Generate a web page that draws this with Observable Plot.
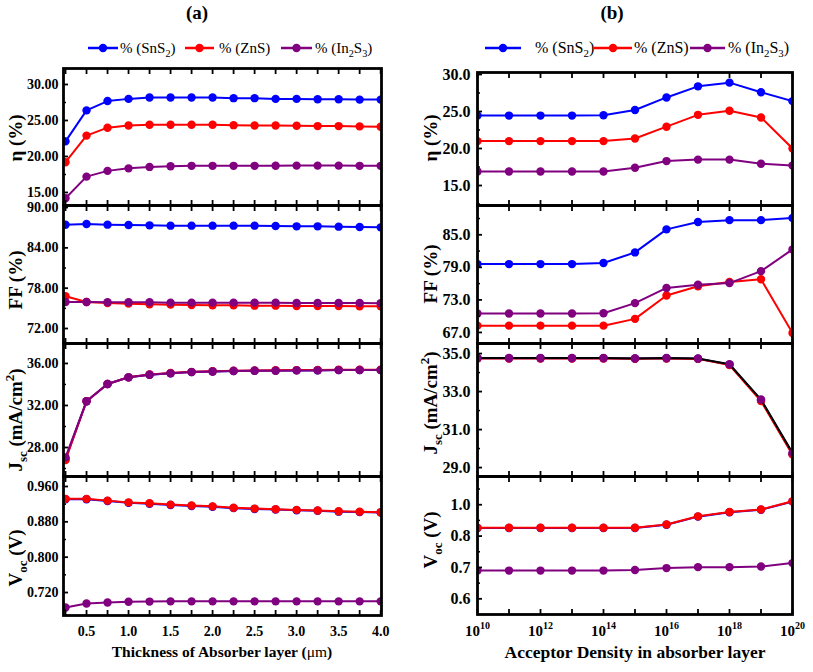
<!DOCTYPE html>
<html><head><meta charset="utf-8">
<script src="https://cdn.jsdelivr.net/npm/d3@7"></script>
<script src="https://cdn.jsdelivr.net/npm/@observablehq/plot@0.6"></script>
<style>
body{margin:0;background:#fff;}
#wrap{position:relative;width:813px;height:672px;overflow:hidden;background:#fff;}
#wrap svg{overflow:visible;position:absolute;}
</style></head><body><div id="wrap"></div>
<script>
// ---------- data ----------
const seriesNames = ["% (SnS2)", "% (ZnS)", "% (In2S3)"];
const seriesColors = ["#0000ff", "#ff0000", "#800080"];

// (a) thickness of absorber layer (µm)
const thickness = [0.25,0.5,0.75,1.0,1.25,1.5,1.75,2.0,2.25,2.5,2.75,3.0,3.25,3.5,3.75,4.0];
const etaA_SnS2 = [22.1,26.4,27.7,28.0,28.2,28.2,28.2,28.2,28.1,28.1,28.0,28.0,27.95,27.95,27.9,27.9];
const etaA_ZnS  = [19.2,22.9,24.0,24.3,24.4,24.4,24.4,24.4,24.35,24.3,24.3,24.27,24.22,24.22,24.18,24.13];
const etaA_In2S3= [14.2,17.2,18.0,18.35,18.55,18.65,18.7,18.7,18.7,18.7,18.72,18.73,18.73,18.73,18.7,18.7];
const ffA_SnS2  = [87.45,87.55,87.45,87.4,87.35,87.3,87.3,87.3,87.3,87.3,87.25,87.2,87.2,87.15,87.1,87.05];
const ffA_ZnS   = [76.8,75.95,75.8,75.7,75.6,75.55,75.5,75.45,75.45,75.4,75.4,75.35,75.35,75.35,75.3,75.3];
const ffA_In2S3 = [75.95,75.95,75.9,75.9,75.9,75.85,75.85,75.85,75.85,75.85,75.85,75.8,75.8,75.8,75.8,75.75];
const jscA_SnS2 = [26.9,32.4,34.05,34.68,34.93,35.06,35.18,35.24,35.28,35.31,35.32,35.34,35.35,35.37,35.38,35.38];
const jscA_ZnS  = [26.8,32.4,34.05,34.68,34.95,35.1,35.2,35.26,35.3,35.33,35.35,35.37,35.38,35.4,35.4,35.4];
const jscA_In2S3= [27.06,32.41,34.05,34.68,34.93,35.06,35.18,35.24,35.28,35.31,35.31,35.34,35.34,35.37,35.37,35.37];
const vocA_SnS2 = [0.931,0.931,0.927,0.923,0.921,0.918,0.916,0.914,0.911,0.909,0.908,0.906,0.905,0.903,0.902,0.901];
const vocA_ZnS  = [0.932,0.932,0.928,0.924,0.922,0.919,0.917,0.915,0.912,0.910,0.9085,0.907,0.9055,0.904,0.903,0.9017];
const vocA_In2S3= [0.686,0.695,0.6975,0.699,0.6995,0.7,0.7,0.7,0.7,0.7,0.7,0.7,0.7,0.7,0.7,0.7];

// (b) acceptor density in absorber layer
const density = [1e10,1e11,1e12,1e13,1e14,1e15,1e16,1e17,1e18,1e19,1e20];
const etaB_SnS2 = [24.45,24.45,24.45,24.45,24.5,25.2,26.9,28.4,28.9,27.6,26.4];
const etaB_ZnS  = [21.0,21.0,21.0,21.0,21.0,21.35,22.95,24.55,25.1,24.2,20.0];
const etaB_In2S3= [16.9,16.9,16.9,16.9,16.9,17.4,18.3,18.5,18.5,17.95,17.7];
const ffB_SnS2  = [79.6,79.6,79.6,79.6,79.8,81.75,86.0,87.35,87.7,87.7,88.1];
const ffB_ZnS   = [68.25,68.25,68.25,68.25,68.25,69.5,73.8,75.5,76.3,76.8,66.9];
const ffB_In2S3 = [70.5,70.5,70.5,70.5,70.55,72.4,75.2,75.8,76.1,78.3,82.3];
const jscB_SnS2 = [34.75,34.75,34.75,34.75,34.75,34.74,34.75,34.73,34.42,32.55,29.72];
const jscB_ZnS  = [34.74,34.74,34.74,34.74,34.74,34.73,34.74,34.72,34.4,32.5,29.68];
const jscB_In2S3= [34.77,34.77,34.77,34.77,34.77,34.74,34.77,34.74,34.44,32.58,29.77];
const vocB_SnS2 = [0.826,0.826,0.826,0.826,0.826,0.826,0.836,0.862,0.876,0.884,0.910];
const vocB_ZnS  = [0.8266,0.8266,0.8266,0.8266,0.8266,0.8266,0.837,0.863,0.877,0.885,0.911];
const vocB_In2S3= [0.690,0.690,0.690,0.690,0.690,0.692,0.698,0.701,0.701,0.703,0.714];

// tick values and labels
const xTicksA = [0.5,1.0,1.5,2.0,2.5,3.0,3.5,4.0];
const xTickLabelsA = ["0.5","1.0","1.5","2.0","2.5","3.0","3.5","4.0"];
const xTicksB = [1e10,1e12,1e14,1e16,1e18,1e20];
const xTickExpB = ["10","12","14","16","18","20"];
const etaTicksA = [15,20,25,30], etaLabelsA = ["15.00","20.00","25.00","30.00"];
const ffTicksA = [72,78,84,90], ffLabelsA = ["72.00","78.00","84.00","90.00"];
const jscTicksA = [28,32,36], jscLabelsA = ["28.00","32.00","36.00"];
const vocTicksA = [0.72,0.80,0.88,0.96], vocLabelsA = ["0.720","0.800","0.880","0.960"];
const etaTicksB = [15,20,25,30], etaLabelsB = ["15.0","20.0","25.0","30.0"];
const ffTicksB = [67,73,79,85], ffLabelsB = ["67.0","73.0","79.0","85.0"];
const jscTicksB = [29,31,33,35], jscLabelsB = ["29.0","31.0","33.0","35.0"];
const vocTicksB = [0.6,0.7,0.8,0.9], vocLabelsB = ["0.6","0.7","0.8","1.0"];

// ---------- drawing ----------
const wrap = document.getElementById("wrap");

function minorOf(ticks) {
  const out = [];
  for (let i = 0; i < ticks.length - 1; i++) out.push((ticks[i] + ticks[i+1]) / 2);
  const st = ticks[1] - ticks[0];
  out.push(ticks[0] - st / 2, ticks[ticks.length-1] + st / 2);
  return out;
}

function panel(cfg) {
  const marks = [];
  const lineColors = cfg.lineColors || seriesColors;
  cfg.series.forEach((vals, i) => {
    const data = cfg.x.map((x, j) => ({x, y: vals[j], s: seriesNames[i]}));
    marks.push(Plot.line(data, {x: "x", y: "y", stroke: lineColors[i], strokeWidth: 2, clip: true}));
    marks.push(Plot.dot(data, {x: "x", y: "y", r: 4.2, fill: seriesColors[i], stroke: "none", clip: true}));
  });
  // inward y ticks
  marks.push(Plot.axisY(cfg.yTicks, {anchor: "left", tickSize: 5, dx: 5, strokeWidth: 1.8, tickFormat: () => "", label: null}));
  marks.push(Plot.axisY(minorOf(cfg.yTicks).filter(v => v > cfg.yDomain[0] && v < cfg.yDomain[1]),
    {anchor: "left", tickSize: 3, dx: 3, strokeWidth: 1.5, tickFormat: () => "", label: null}));
  // y labels
  marks.push(Plot.axisY(cfg.yTicks, {anchor: "left", tickSize: 0, tickPadding: cfg.yPad,
    tickFormat: d => cfg.yLabels[cfg.yTicks.indexOf(d)], label: null, fontSize: cfg.yFont, fontWeight: "bold"}));
  // inward x ticks top & bottom
  marks.push(Plot.axisX(cfg.xTickAll, {anchor: "top", tickSize: 5, dy: 5, strokeWidth: 1.8, tickFormat: () => "", label: null}));
  marks.push(Plot.axisX(cfg.xTickAll, {anchor: "bottom", tickSize: 5, dy: -5, strokeWidth: 1.8, tickFormat: () => "", label: null}));
  if (cfg.xLabels) {
    marks.push(Plot.axisX(cfg.xLabelTicks, {anchor: "bottom", tickSize: 0, tickPadding: 11,
      tickFormat: cfg.xLabels, label: null, fontSize: cfg.xFont, fontWeight: "bold"}));
  }
  marks.push(Plot.frame({stroke: "black", strokeWidth: 2.8}));
  const svg = Plot.plot({
    width: cfg.width,
    height: cfg.height + (cfg.mb || 0),
    marginTop: 0, marginBottom: cfg.mb || 0,
    marginLeft: cfg.ml, marginRight: cfg.mr,
    x: {type: cfg.xType, domain: cfg.xDomain},
    y: {domain: cfg.yDomain},
    style: {fontFamily: "'Liberation Serif', 'Times New Roman', serif", fontWeight: "bold", fontSize: "14px", color: "black", background: "transparent", overflow: "visible"},
    marks
  });
  svg.style.left = cfg.left + "px";
  svg.style.top = cfg.top + "px";
  wrap.appendChild(svg);
  return svg;
}

const colA = {x: thickness, xType: "linear", xDomain: [0.226, 4.01], xTickAll: thickness,
  left: 0, width: 400, ml: 63, mr: 19, yFont: 14, yPad: 5};
const colB = {x: density, xType: "log", xDomain: [1e10, 1e20], xTickAll: density,
  left: 400, width: 413, ml: 77, mr: 21, yFont: 16, yPad: 7};

panel({...colA, top: 68, height: 137, series: [etaA_SnS2, etaA_ZnS, etaA_In2S3], yDomain: [13.19, 32.22], yTicks: etaTicksA, yLabels: etaLabelsA});
panel({...colA, top: 205, height: 138, series: [ffA_SnS2, ffA_ZnS, ffA_In2S3], yDomain: [69.77, 90.3], yTicks: ffTicksA, yLabels: ffLabelsA});
panel({...colA, top: 343, height: 133, series: [jscA_SnS2, jscA_ZnS, jscA_In2S3], yDomain: [25.24, 37.9], yTicks: jscTicksA, yLabels: jscLabelsA});
panel({...colA, top: 476, height: 139, mb: 57, series: [vocA_SnS2, vocA_ZnS, vocA_In2S3], yDomain: [0.668, 0.9826], yTicks: vocTicksA, yLabels: vocLabelsA,
  xLabelTicks: xTicksA, xLabels: d => xTickLabelsA[xTicksA.indexOf(d)], xFont: 14});

panel({...colB, top: 72, height: 133, series: [etaB_SnS2, etaB_ZnS, etaB_In2S3], yDomain: [12.3, 30.27], yTicks: etaTicksB, yLabels: etaLabelsB});
panel({...colB, top: 205, height: 138, series: [ffB_SnS2, ffB_ZnS, ffB_In2S3], yDomain: [64.96, 90.4], yTicks: ffTicksB, yLabels: ffLabelsB});
panel({...colB, top: 343, height: 133, series: [jscB_SnS2, jscB_ZnS, jscB_In2S3], yDomain: [28.53, 35.53], yTicks: jscTicksB, yLabels: jscLabelsB,
  lineColors: ["#0000ff", "#ff0000", "#000000"]});
const lastB = panel({...colB, top: 476, height: 138, mb: 58, series: [vocB_SnS2, vocB_ZnS, vocB_In2S3], yDomain: [0.55, 0.99], yTicks: vocTicksB, yLabels: vocLabelsB,
  xLabelTicks: xTicksB, xLabels: d => "10^" + xTickExpB[xTicksB.indexOf(d)], xFont: 15});

// superscript exponents on the log axis labels
d3.select(lastB).selectAll("text").each(function() {
  const t = this.textContent;
  if (t.startsWith("10^")) {
    const exp = t.slice(3);
    const sel = d3.select(this);
    sel.text(null);
    sel.append("tspan").text("10");
    sel.append("tspan").attr("dy", "-7").attr("font-size", "10px").text(exp);
  }
});

// ---------- overlay texts ----------
const ov = d3.select(wrap).append("svg").attr("width", 813).attr("height", 672)
  .style("left", "0px").style("top", "0px")
  .style("font-family", "'Liberation Serif', 'Times New Roman', serif");

ov.append("text").attr("x", 197).attr("y", 19).attr("text-anchor", "middle")
  .attr("font-size", 19).attr("font-weight", "bold").text("(a)");
ov.append("text").attr("x", 612).attr("y", 19).attr("text-anchor", "middle")
  .attr("font-size", 19).attr("font-weight", "bold").text("(b)");

function richText(g, parts, size) {
  parts.forEach(p => {
    const ts = g.append("tspan").text(p.t);
    if (p.sub) ts.attr("font-size", size * 0.68).attr("dy", size * 0.28);
    if (p.sup) ts.attr("font-size", size * 0.68).attr("dy", -size * 0.4);
    if (p.after) ts.attr("dy", p.after);
  });
}
const legendParts = [
  [{t: "% (SnS"}, {t: "2", sub: true}, {t: ")", after: -15 * 0.28}],
  [{t: "% (ZnS)"}],
  [{t: "% (In"}, {t: "2", sub: true}, {t: "S", after: -15 * 0.28}, {t: "3", sub: true}, {t: ")", after: -15 * 0.28}]
];
function legend(items, size) {
  items.forEach((it, i) => {
    ov.append("line").attr("x1", it.x1).attr("x2", it.x2).attr("y1", 48).attr("y2", 48)
      .attr("stroke", seriesColors[i]).attr("stroke-width", 2.5);
    ov.append("circle").attr("cx", (it.x1 + it.x2) / 2).attr("cy", 48).attr("r", 4.2).attr("fill", seriesColors[i]);
    const parts = legendParts[i].map(p => ({...p, after: p.after ? -size * 0.28 : undefined}));
    const t = ov.append("text").attr("x", it.tx).attr("y", 53).attr("font-size", size);
    richText(t, parts, size);
  });
}
legend([{x1: 88, x2: 118, tx: 120}, {x1: 185, x2: 214, tx: 219}, {x1: 281, x2: 312, tx: 315}], 15);
legend([{x1: 485, x2: 521, tx: 535}, {x1: 594, x2: 632, tx: 634}, {x1: 690, x2: 725, tx: 728}], 16);

function yTitle(x, y, parts) {
  const t = ov.append("text").attr("transform", `translate(${x},${y}) rotate(-90)`)
    .attr("text-anchor", "middle").attr("font-size", 19).attr("font-weight", "bold");
  richText(t, parts, 19);
}
const etaTitle = [{t: "η (%)"}];
const ffTitle = [{t: "FF (%)"}];
const jscTitle = [{t: "J"}, {t: "sc", sub: true}, {t: " (mA/cm", after: -19 * 0.28}, {t: "2", sup: true}, {t: ")", after: 19 * 0.4}];
const vocTitle = [{t: "V"}, {t: "oc", sub: true}, {t: " (V)", after: -19 * 0.28}];
yTitle(22, 138, etaTitle);
yTitle(22, 280, ffTitle);
yTitle(22, 420, jscTitle);
yTitle(22, 558, vocTitle);
yTitle(437, 138, etaTitle);
yTitle(437, 274, ffTitle);
yTitle(437, 403, jscTitle);
yTitle(437, 540, vocTitle);

const xt1 = ov.append("text").attr("x", 222).attr("y", 657).attr("text-anchor", "middle")
  .attr("font-size", 15.5).attr("font-weight", "bold");
xt1.append("tspan").text("Thickness of Absorber layer (");
xt1.append("tspan").attr("font-weight", "normal").text("μm");
xt1.append("tspan").text(")");
ov.append("text").attr("x", 635).attr("y", 658).attr("text-anchor", "middle")
  .attr("font-size", 17.5).attr("font-weight", "bold").text("Acceptor Density in absorber layer");
</script>
</body></html>
